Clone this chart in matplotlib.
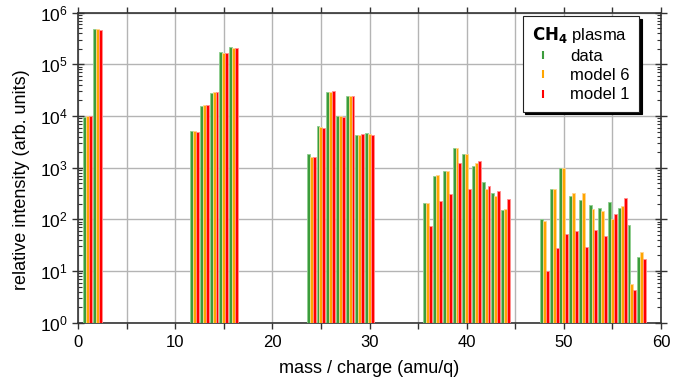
import matplotlib
matplotlib.use('Agg')
import matplotlib.pyplot as plt
from matplotlib.ticker import MultipleLocator, LogLocator, NullFormatter
import numpy as np

plt.rcParams['font.family'] = ['Liberation Sans', 'DejaVu Sans']
plt.rcParams['mathtext.default'] = 'regular'

masses = [1, 2, 12, 13, 14, 15, 16, 24, 25, 26, 27, 28, 29, 30,
          36, 37, 38, 39, 40, 41, 42, 43, 44,
          48, 49, 50, 51, 52, 53, 54, 55, 56, 57, 58]
data = [9450, 4.83e5, 5130, 1.56e4, 2.79e4, 1.73e5, 2.14e5,
        1816, 6410, 2.92e4, 1.01e4, 2.48e4, 4230, 4630,
        210, 690, 875, 2440, 1840, 1064, 528, 319, 152,
        100, 382, 1000, 287, 237, 187, 168, 214, 163, 77, 18.1]
model6 = [1.0e4, 4.8e5, 5100, 1.61e4, 2.96e4, 1.68e5, 2.09e5,
          1590, 6120, 2.92e4, 1.0e4, 2.48e4, 4290, 4560,
          207, 721, 860, 2440, 1840, 1217, 392, 288, 159,
          93, 382, 1000, 319, 319, 161, 145, 100, 179, 4.7, 22.6]
model1 = [1.0e4, 4.7e5, 4970, 1.61e4, 2.96e4, 1.68e5, 2.09e5,
          1590, 5940, 3.05e4, 9700, 2.48e4, 4430, 4300,
          73, 230, 314, 1217, 392, 1365, 442, 354, 248,
          9.0, 27.5, 50.5, 57.7, 28.3, 62, 46, 127, 263, 3.33, 16.3]

series = [('data', data, '#3c9c3c', '#8fcf8f'),
          ('model 6', model6, '#ffa500', '#ffd590'),
          ('model 1', model1, '#ff0000', '#ff9090')]

fig = plt.figure(figsize=(6.88, 3.79), dpi=100)
ax = fig.add_axes([0.1134, 0.1485, 0.8474, 0.818])

x = np.array(masses)
w = 0.3
for i, (label, vals, col, light) in enumerate(series):
    ax.bar(x + (i - 1) * w, vals, width=w, bottom=1, color=col,
           edgecolor=light, linewidth=0.6, zorder=3)
    ax.plot([], [], ls='none', marker='|', ms=6, mew=1.5, color=col, label=label)

ax.set_yscale('log')
ax.set_ylim(1, 1e6)
ax.set_xlim(0, 60)
ax.xaxis.set_major_locator(MultipleLocator(10))
ax.xaxis.set_minor_locator(MultipleLocator(5))
ax.yaxis.set_major_locator(LogLocator(base=10, numticks=10))
ax.yaxis.set_minor_locator(LogLocator(base=10, subs=np.arange(2, 10), numticks=20))
ax.yaxis.set_minor_formatter(NullFormatter())

ax.grid(True, which='major', color='#b4b4b4', lw=1, zorder=0)
ax.grid(True, which='minor', axis='x', color='#b4b4b4', lw=1, zorder=0)

ax.tick_params(axis='x', which='both', direction='out', length=4, width=1,
               labelsize=12, color='#333333', top=True, pad=5)
ax.tick_params(axis='y', which='major', direction='inout', length=8, width=1,
               labelsize=12.5, right=True, color='#333333')
ax.tick_params(axis='y', which='minor', direction='in', length=3, width=0.8,
               right=True, color='#333333')
for s in ax.spines.values():
    s.set_color('#333333')
    s.set_linewidth(1.2)

ax.set_xlabel('mass / charge (amu/q)', fontsize=13, labelpad=7)
ax.set_ylabel('relative intensity (arb. units)', fontsize=13, labelpad=5)
ax.yaxis.set_label_coords(-0.082, 0.46)

leg = ax.legend(title=r'$\bf{CH_4}$ plasma', loc='upper right',
                bbox_to_anchor=(0.962, 0.99), borderaxespad=0,
                fontsize=12, title_fontsize=12,
                frameon=True, fancybox=False, shadow={'color': 'black', 'alpha': 1},
                edgecolor='#222222', handlelength=1.3, handletextpad=1.0,
                borderpad=0.55, labelspacing=0.25)
leg.get_frame().set_linewidth(0.8)
leg._legend_box.align = 'left'
leg.set_zorder(5)

fig.savefig('out.png', dpi=100)
